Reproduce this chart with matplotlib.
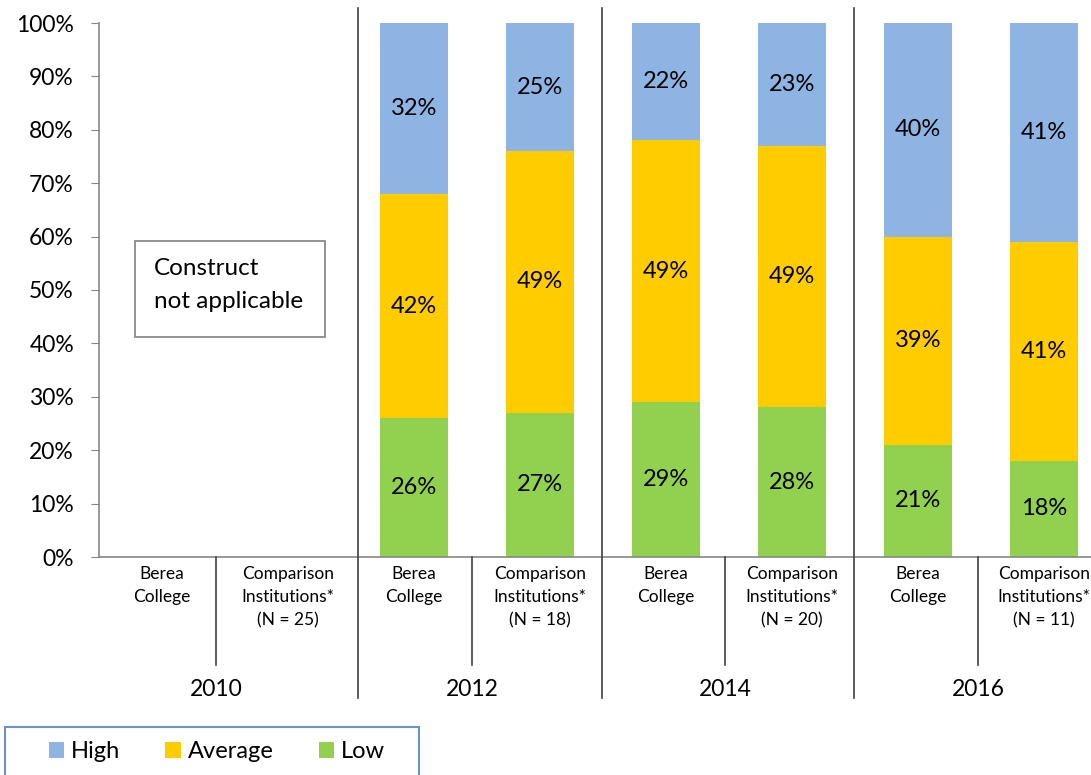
import numpy as np
import matplotlib
matplotlib.use('Agg')
import matplotlib.pyplot as plt
from matplotlib import transforms
from matplotlib.patches import Patch, Rectangle
from matplotlib.lines import Line2D
from matplotlib.ticker import PercentFormatter

plt.rcParams['font.family'] = ['Lato', 'DejaVu Sans']

# one slot per bar, 2010 has no data for this construct
groups = ['Berea\nCollege', 'Comparison\nInstitutions*\n(N = 25)',
          'Berea\nCollege', 'Comparison\nInstitutions*\n(N = 18)',
          'Berea\nCollege', 'Comparison\nInstitutions*\n(N = 20)',
          'Berea\nCollege', 'Comparison\nInstitutions*\n(N = 11)']
years = ['2010', '2012', '2014', '2016']
low = [np.nan, np.nan, 26, 27, 29, 28, 21, 18]
average = [np.nan, np.nan, 42, 49, 49, 49, 39, 41]
high = [np.nan, np.nan, 32, 25, 22, 23, 40, 41]

colors = {'High': '#8EB4E3', 'Average': '#FFCC00', 'Low': '#92D050'}

W, H = 1091, 775
fig = plt.figure(figsize=(W / 100, H / 100), dpi=100)
ax = fig.add_axes([99 / W, 1 - 557 / H, 1008 / W, 534 / H])

x = np.arange(len(groups))
lo = np.array(low) / 100
av = np.array(average) / 100
hi = np.array(high) / 100
bw = 0.54

b_lo = ax.bar(x, lo, bw, color=colors['Low'])
b_av = ax.bar(x, av, bw, bottom=lo, color=colors['Average'])
b_hi = ax.bar(x, hi, bw, bottom=lo + av, color=colors['High'])

def labels(vals):
    return ['' if np.isnan(v) else f'{int(v)}%' for v in vals]

for bars, vals in [(b_lo, low), (b_av, average), (b_hi, high)]:
    ax.bar_label(bars, labels=labels(vals), label_type='center', fontsize=17)

ax.set_xlim(-0.5, 7.5)
ax.set_ylim(0, 1)
ax.set_yticks(np.arange(0, 1.01, 0.1))
ax.yaxis.set_major_formatter(PercentFormatter(1.0, decimals=0))
ax.tick_params(axis='y', length=6, color='#868686', labelsize=16.5, pad=12)
ax.set_xticks(x)
ax.set_xticklabels(groups, fontsize=12.5)
ax.tick_params(axis='x', length=0, pad=6.5)
for t in ax.get_xticklabels():
    t.set_linespacing(1.55)
for s in ['top', 'right']:
    ax.spines[s].set_visible(False)
for s in ['left', 'bottom']:
    ax.spines[s].set_color('#868686')
    ax.spines[s].set_linewidth(1.2)

# group separators drawn across axes and label area
tr = transforms.blended_transform_factory(ax.transData, fig.transFigure)
outer = [1.553, 3.49, 5.49]
inner = [0.43, 2.46, 4.47, 6.48]
for xs in outer:
    fig.add_artist(Line2D([xs, xs], [1 - 8 / H, 1 - 698 / H], transform=tr,
                          color='#404040', lw=1.2))
for xs in inner:
    fig.add_artist(Line2D([xs, xs], [1 - 557 / H, 1 - 665 / H], transform=tr,
                          color='#404040', lw=1.2))
for xs, yr in zip(inner, years):
    fig.text(xs, 1 - 690 / H, yr, transform=tr, ha='center', va='center',
             fontsize=16.5)

# note for the empty year
fig.add_artist(Rectangle((135 / W, 1 - 337 / H), 190 / W, 96 / H,
                         transform=fig.transFigure, fill=False,
                         edgecolor='#808080', lw=1.2))
fig.text(154 / W, 1 - 285 / H, 'Construct\nnot applicable', ha='left',
         va='center', fontsize=17.5, linespacing=1.65)

# legend box runs off the bottom edge
fig.add_artist(Rectangle((5 / W, 1 - 800 / H), 414 / W, 73 / H,
                         transform=fig.transFigure, fill=False,
                         edgecolor='#6A93C9', lw=1.5))
handles = [Patch(facecolor=colors[k], label=k) for k in ['High', 'Average', 'Low']]
fig.legend(handles=handles, loc='center left',
           bbox_to_anchor=(37 / W, 1 - 752 / H), ncol=3, frameon=False,
           fontsize=17, handlelength=0.65, handleheight=0.65,
           handletextpad=0.3, columnspacing=1.9, borderpad=0)

fig.savefig('out.png', dpi=100)
